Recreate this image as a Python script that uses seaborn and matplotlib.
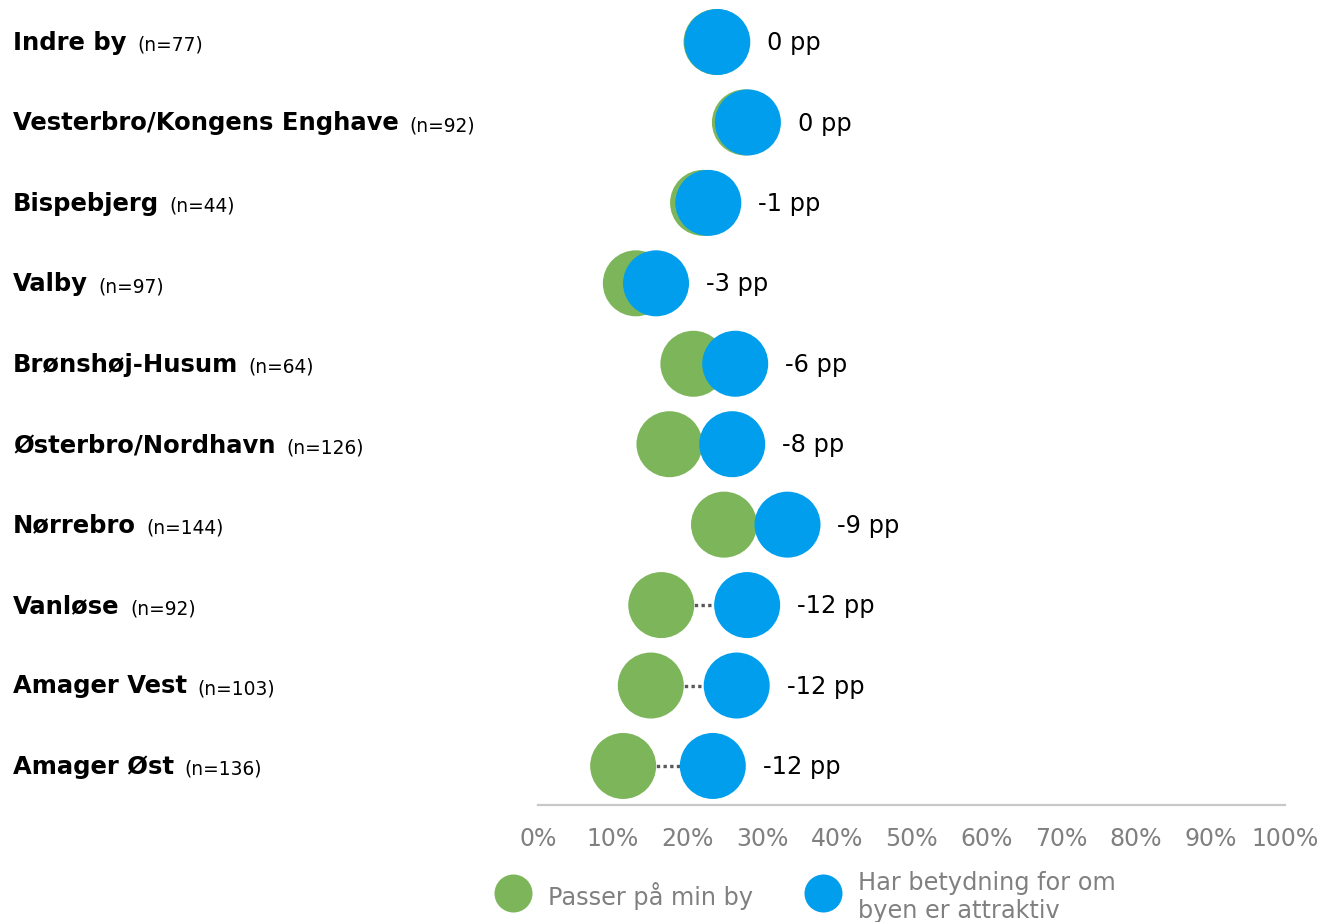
import matplotlib
matplotlib.use("Agg")
import matplotlib.pyplot as plt
import matplotlib.transforms as mtransforms
from matplotlib.lines import Line2D
import seaborn as sns
import pandas as pd

regions = ["Indre by", "Vesterbro/Kongens Enghave", "Bispebjerg", "Valby",
           "Brønshøj-Husum", "Østerbro/Nordhavn", "Nørrebro", "Vanløse",
           "Amager Vest", "Amager Øst"]
n_counts = [77, 92, 44, 97, 64, 126, 144, 92, 103, 136]
passer = [23.9, 27.7, 22.1, 13.1, 20.8, 17.6, 24.9, 16.5, 15.1, 11.4]
betydning = [24.0, 28.1, 22.8, 15.8, 26.4, 26.0, 33.4, 28.0, 26.6, 23.4]
pp_labels = [0, 0, -1, -3, -6, -8, -9, -12, -12, -12]
series_names = ["Passer på min by", "Har betydning for om\nbyen er attraktiv"]
xticks = [0, 10, 20, 30, 40, 50, 60, 70, 80, 90, 100]
xticklabels = [f"{t}%" for t in xticks]

GREEN = "#7DB65A"
BLUE = "#009EEC"
GRAY_TXT = "#808080"

sns.set_theme(style="white")
plt.rcParams["font.family"] = ["DejaVu Sans"]

W, H = 1322, 922
fig = plt.figure(figsize=(W / 100, H / 100), dpi=100)
ax_left, ax_right = 538, 1285
ax_top, ax_bottom = 0, 805
ax = fig.add_axes([ax_left / W, (H - ax_bottom) / H,
                   (ax_right - ax_left) / W, (ax_bottom - ax_top) / H])

df = pd.DataFrame({
    "region": regions * 2,
    "value": passer + betydning,
    "series": [series_names[0]] * len(regions) + [series_names[1]] * len(regions),
})
df["ypos"] = list(range(len(regions))) * 2

# connecting dotted lines
for i, (g, b) in enumerate(zip(passer, betydning)):
    ax.plot([g, b], [i, i], linestyle=(0, (1, 1)), color="#595959", lw=2.4,
            zorder=1, solid_capstyle="butt", dash_capstyle="butt")

diam_pt = 66 * 72 / 100
sns.scatterplot(data=df, x="value", y="ypos", hue="series",
                palette={series_names[0]: GREEN, series_names[1]: BLUE},
                s=diam_pt ** 2, linewidth=0, legend=False, ax=ax, zorder=3)

step = 80.44
row0 = 42
ax.set_ylim((ax_bottom - row0) / step, (ax_top - row0) / step)
ax.set_xlim(0, 100)
ax.set_xticks(xticks)
ax.set_xticklabels(xticklabels, fontsize=17, color=GRAY_TXT)
ax.tick_params(axis="x", length=0, pad=16)
ax.set_yticks([])
ax.set_xlabel("")
ax.set_ylabel("")
for side in ["top", "left", "right"]:
    ax.spines[side].set_visible(False)
ax.spines["bottom"].set_color("#C8C8C8")
ax.spines["bottom"].set_linewidth(1.6)

# value labels
for i, (g, b, pp) in enumerate(zip(passer, betydning, pp_labels)):
    ax.annotate(f"{pp} pp", xy=(max(g, b), i), xytext=(50 * 0.72, -0.8),
                textcoords="offset points", va="center", ha="left",
                fontsize=17.4, color="#000000", annotation_clip=False)

# category labels
trans = mtransforms.blended_transform_factory(fig.transFigure, ax.transData)
for i, (name, n) in enumerate(zip(regions, n_counts)):
    t = ax.text(13 / W, i + 0.012, name, transform=trans, fontsize=17.5,
                fontweight="bold", va="center", ha="left", color="#000000")
    ax.annotate(f"(n={n})", xy=(1, 0), xycoords=t, xytext=(7.5, 0),
                textcoords="offset points", va="bottom", ha="left",
                fontsize=13.4, color="#000000")

# legend (manual)
def fig_xy(px, py):
    return px / W, (H - py) / H

leg_d = 38 * 72 / 100
for cx, col in [(513, GREEN), (823, BLUE)]:
    fig.add_artist(Line2D([fig_xy(cx, 893)[0]], [fig_xy(cx, 893)[1]],
                          marker="o", markersize=leg_d, color=col,
                          markeredgewidth=0, linestyle="none",
                          transform=fig.transFigure))
fig.text(*fig_xy(548, 896), series_names[0], fontsize=17.3, color=GRAY_TXT,
         va="center", ha="left")
fig.text(*fig_xy(858, 871), series_names[1], fontsize=17.3, color=GRAY_TXT,
         va="top", ha="left", linespacing=1.2)

fig.savefig("out.png", dpi=100, facecolor="white")
